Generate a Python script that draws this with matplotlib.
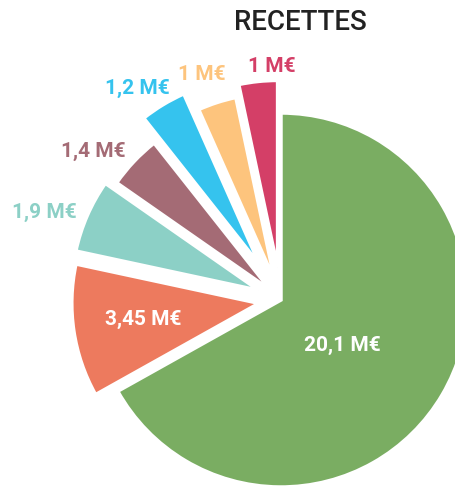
import matplotlib.pyplot as plt

# recettes, en millions d'euros (ordre horaire depuis le haut)
values = [20.1, 3.45, 1.9, 1.4, 1.2, 1, 1]
colors = ["#7AAD62", "#ED7A5E", "#8CD0C6", "#A46B75", "#35C3EE", "#FDC47D", "#D43F67"]
explode = [0, 0.12, 0.13, 0.08, 0.22, 0.11, 0.175]
title = "RECETTES"

W, H = 455, 486
plt.rcParams['font.family'] = ['Roboto', 'DejaVu Sans']

fig = plt.figure(figsize=(W / 100, H / 100), dpi=100)
ax = fig.add_axes([0, 0, 1, 1])

# pie drawn in pixel units so it can hang off the bottom / right edge
cx, cy, r = 281, H - 300, 187
# explode is in data units for pie, so scale by radius
wedges, _ = ax.pie(values, colors=colors, explode=[e * r for e in explode],
                   startangle=90, counterclock=False, center=(cx, cy), radius=r,
                   wedgeprops=dict(linewidth=2.5, edgecolor="white"))
ax.set_xlim(0, W)
ax.set_ylim(0, H)
ax.set_aspect("equal")
ax.axis("off")

labels = [f"{v:g}".replace(".", ",") + " M€" for v in values]
# label positions (pixels from top-left), layout only
label_pos = [(342, 345), (143, 319), (44, 212), (93, 151), (137, 88), (202, 75), (272, 66)]
for i, (lab, (x, y)) in enumerate(zip(labels, label_pos)):
    c = "white" if i < 2 else colors[i]
    ax.text(x, H - y, lab, color=c, fontsize=15, fontweight="bold",
            ha="center", va="center")

ax.text(300, H - 23, title, color="#222222", fontsize=20, fontweight="medium",
        ha="center", va="center")

fig.savefig("out.png", dpi=100)
